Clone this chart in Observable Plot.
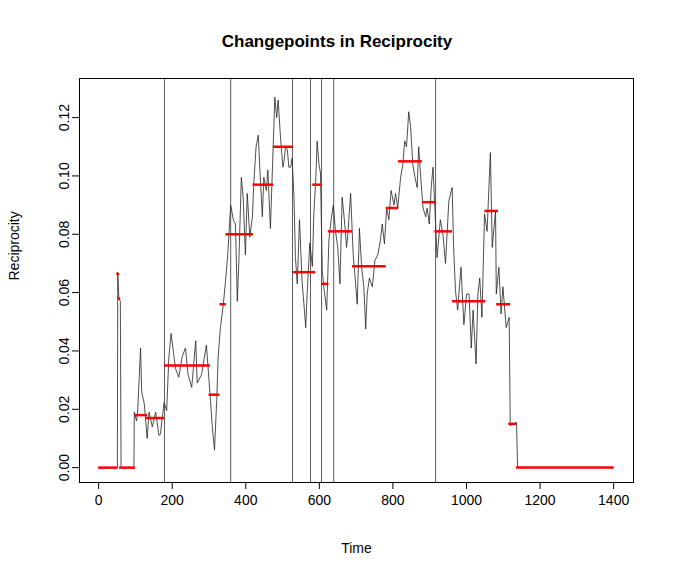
<!DOCTYPE html>
<html>
<head>
<meta charset="utf-8">
<script src="https://cdn.jsdelivr.net/npm/d3@7"></script>
<script src="https://cdn.jsdelivr.net/npm/@observablehq/plot@0.6"></script>
<style>
  body { margin: 0; background: #fff; font-family: "Liberation Sans", Arial, sans-serif; }
  #title { height: 60px; width: 674px; text-align: center; font-weight: bold; font-size: 17px; line-height: 84px; }
</style>
</head>
<body>
<div id="title">Changepoints in Reciprocity</div>
<div id="chart"></div>
<script>
// time series (time, reciprocity)
const seriesTime = [0,51,52,55,59,61,96,97,103,106,114,117,124,132,137,146,155,164,168,178,185,191,197,205,209,218,227,236,243,253,264,268,280,293,300,304,309,315,321,325,331,339,345,351,359,366,372,377,381,388,393,399,404,411,418,422,428,434,438,445,449,456,460,467,475,479,484,488,495,501,504,508,513,517,522,526,531,535,540,546,553,560,563,567,574,581,585,590,594,599,603,608,612,620,626,632,638,644,650,656,662,668,674,678,685,692,698,703,709,715,721,726,730,736,744,751,759,766,771,777,783,789,795,803,807,813,821,827,832,837,843,848,854,860,866,870,877,882,889,893,899,904,909,916,920,929,936,943,952,961,965,970,976,985,993,1000,1007,1013,1018,1026,1031,1036,1042,1049,1056,1065,1070,1079,1081,1088,1094,1099,1108,1116,1119,1136,1139,1400];
const seriesValue = [0,0,0.0668,0.058,0.057,0,0,0.019,0.016,0.019,0.041,0.026,0.022,0.010,0.019,0.014,0.019,0.011,0.0115,0.0224,0.0195,0.038,0.046,0.038,0.034,0.031,0.038,0.041,0.032,0.0275,0.0435,0.029,0.032,0.042,0.030,0.023,0.014,0.006,0.023,0.038,0.048,0.056,0.064,0.073,0.090,0.085,0.0835,0.057,0.070,0.0995,0.0927,0.073,0.094,0.079,0.086,0.098,0.110,0.114,0.103,0.086,0.0995,0.095,0.102,0.082,0.112,0.127,0.120,0.126,0.112,0.103,0.105,0.110,0.109,0.103,0.103,0.106,0.093,0.072,0.063,0.085,0.064,0.053,0.048,0.060,0.077,0.069,0.087,0.098,0.112,0.104,0.101,0.0675,0.062,0.054,0.078,0.085,0.090,0.081,0.0755,0.063,0.0927,0.085,0.0755,0.081,0.094,0.073,0.064,0.056,0.082,0.0687,0.062,0.0475,0.0595,0.065,0.062,0.071,0.073,0.078,0.0835,0.0767,0.089,0.085,0.095,0.090,0.094,0.089,0.0995,0.104,0.112,0.110,0.122,0.117,0.104,0.0995,0.096,0.110,0.097,0.089,0.086,0.089,0.0835,0.096,0.103,0.0835,0.072,0.085,0.080,0.070,0.0915,0.096,0.0755,0.0607,0.054,0.0687,0.049,0.0595,0.0595,0.041,0.054,0.0355,0.0595,0.065,0.0515,0.087,0.081,0.108,0.0755,0.088,0.0595,0.0687,0.0527,0.062,0.048,0.0515,0.0144,0.0155,0,0];

// changepoint locations
const changepoints = [179, 359, 527, 576, 606, 639, 916];

// segment means: start, end, mean
const segStart = [0,50,57,100,130,180,300,330,346,420,475,530,582,606,625,690,782,815,880,914,962,1050,1082,1115,1136];
const segEnd   = [52,52,100,133,179,304,330,347,421,476,530,590,606,626,690,782,816,880,917,962,1052,1087,1120,1136,1400];
const segMean  = [0,0.0665,0,0.018,0.017,0.035,0.025,0.056,0.080,0.097,0.110,0.067,0.097,0.063,0.081,0.069,0.089,0.105,0.091,0.081,0.057,0.088,0.056,0.015,0];
const spikeTime = [52, 55];
const spikeValue = [0.0665, 0.058];

const series = seriesTime.map((t, i) => ({t, v: seriesValue[i]}));
const segs = segStart.map((s, i) => ({x1: s, x2: segEnd[i], y: segMean[i]}));
const spikes = spikeTime.map((t, i) => ({t, v: spikeValue[i]}));

const chart = Plot.plot({
  width: 674,
  height: 520,
  marginTop: 18,
  marginBottom: 98,
  marginLeft: 79,
  marginRight: 41,
  style: {fontFamily: "Liberation Sans, Arial, sans-serif", fontSize: "14px", color: "#000"},
  x: {domain: [-52, 1454]},
  y: {domain: [-0.0051, 0.1334]},
  marks: [
    Plot.line(series, {x: "t", y: "v", stroke: "#222", strokeWidth: 0.8}),
    Plot.ruleX(changepoints, {stroke: "#333", strokeWidth: 0.8}),
    Plot.ruleY(segs, {x1: "x1", x2: "x2", y: "y", stroke: "#ff0000", strokeWidth: 2.5}),
    Plot.dot(spikes, {x: "t", y: "v", r: 1.5, fill: "#ff0000"}),
    Plot.frame({stroke: "#000"}),
    Plot.axisX({ticks: d3.range(0, 1401, 200), tickFormat: d3.format("d"), tickSize: 7, tickPadding: 6, label: null, fontSize: 14}),
    Plot.axisY({ticks: d3.range(0, 0.121, 0.02), tickFormat: d3.format(".2f"), tickSize: 7, tickPadding: 4, tickRotate: -90, label: null, fontSize: 14}),
    Plot.text(["Time"], {frameAnchor: "bottom", dy: 70, fontSize: 14}),
    Plot.text(["Reciprocity"], {frameAnchor: "left", dx: -65, rotate: -90, fontSize: 14})
  ]
});
document.getElementById("chart").append(chart);
</script>
</body>
</html>
